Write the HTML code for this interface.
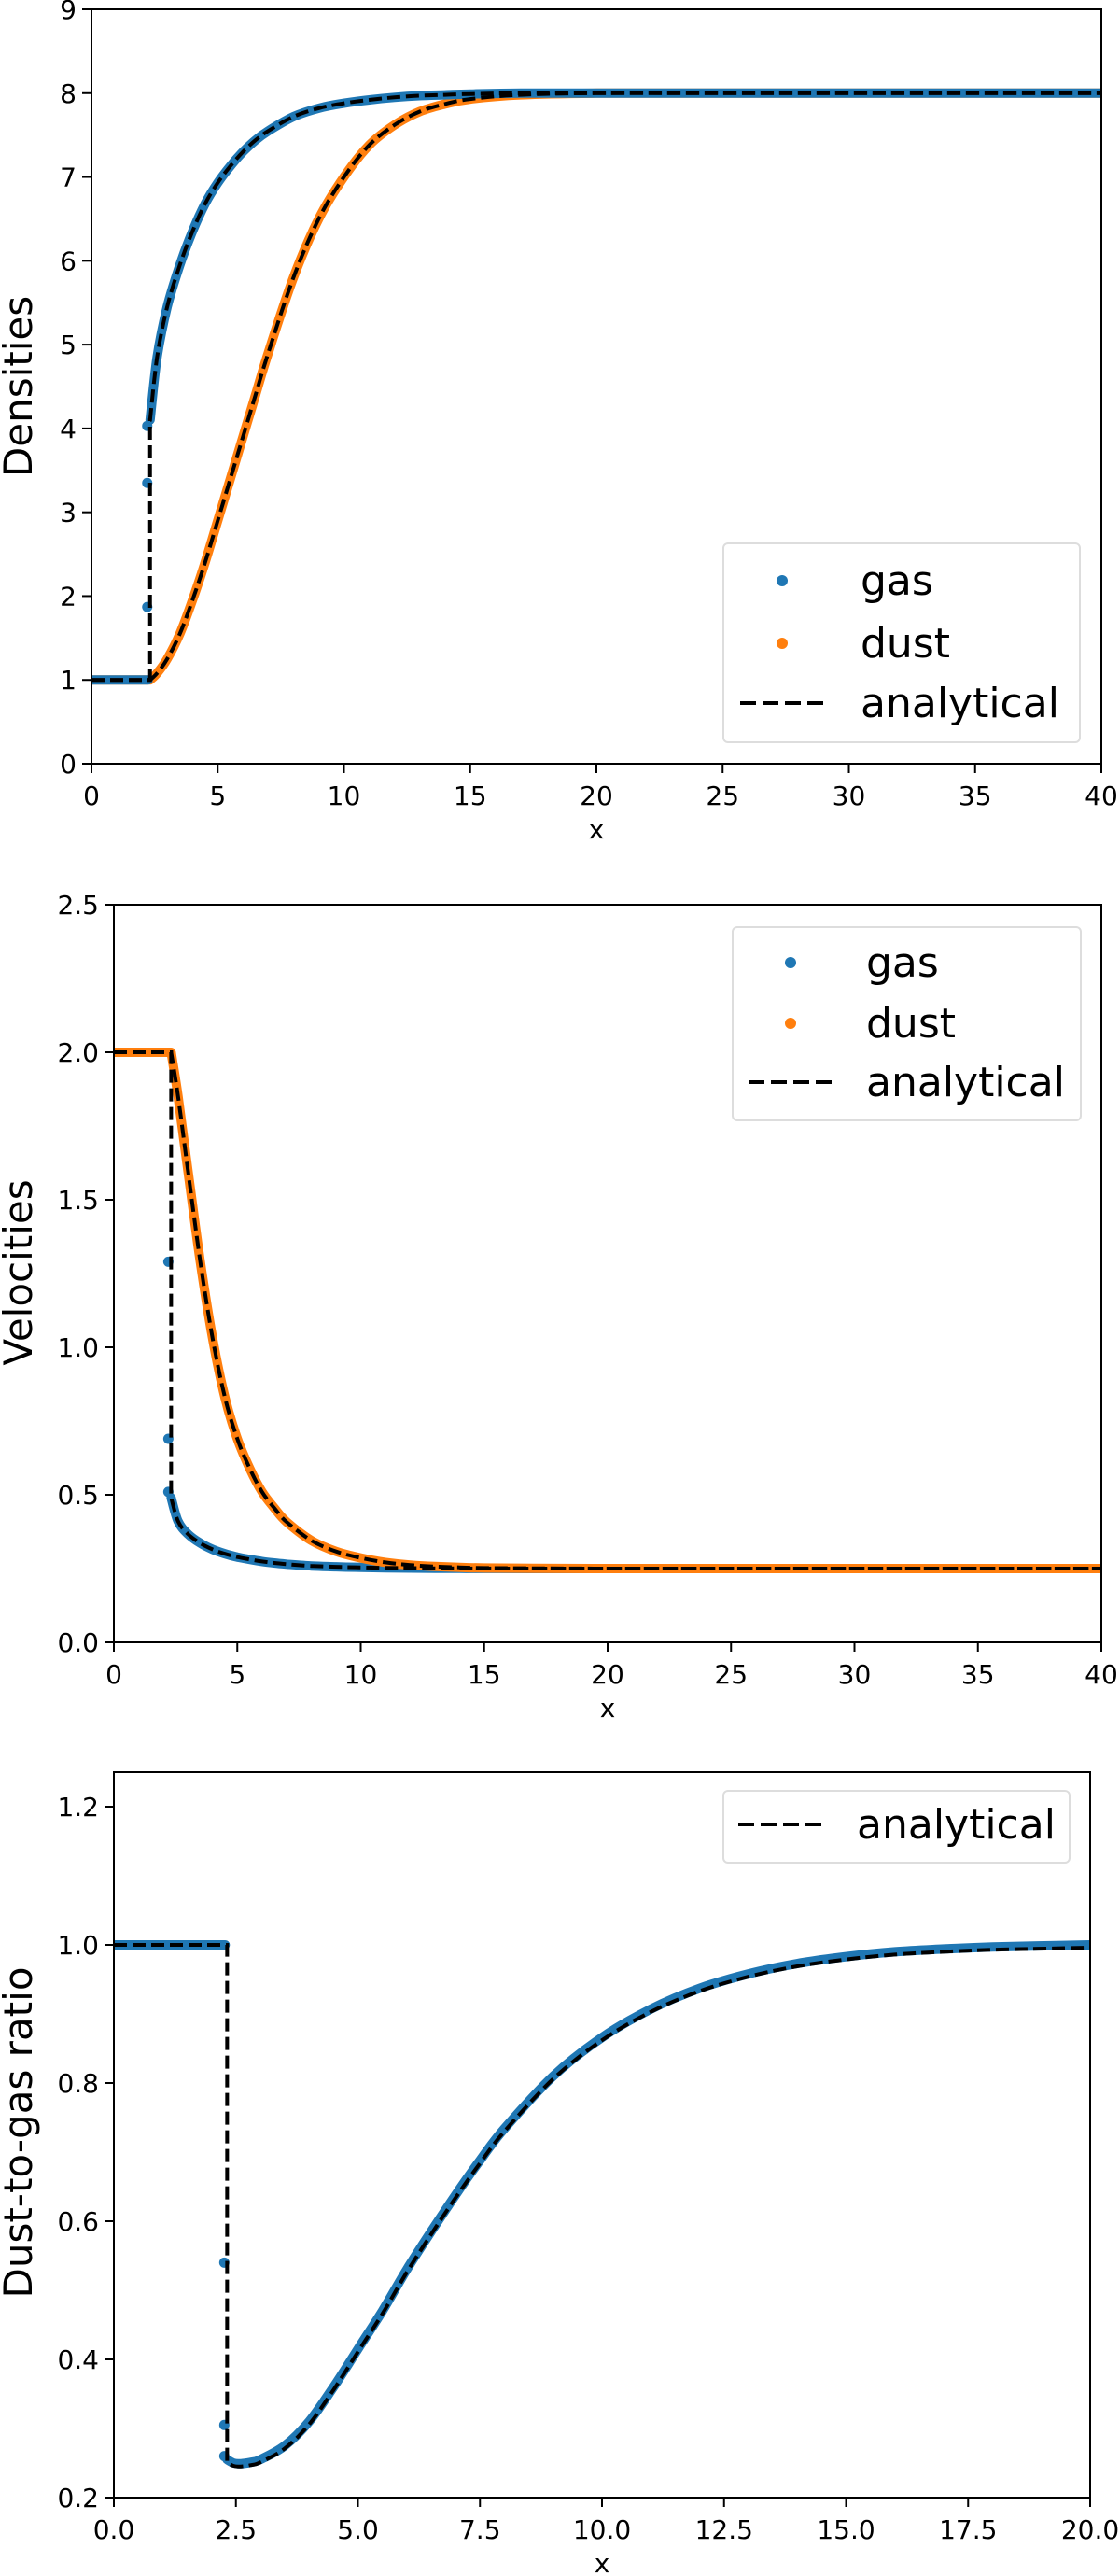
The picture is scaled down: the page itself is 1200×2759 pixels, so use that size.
<!DOCTYPE html>
<html><head><meta charset="utf-8">
<style>
html,body{margin:0;padding:0;background:#fff;}
svg{display:block;font-family:"DejaVu Sans","Liberation Sans",sans-serif;}
</style></head>
<body>
<svg id="fig" width="1200" height="2759" viewBox="0 0 1200 2759" xmlns="http://www.w3.org/2000/svg"></svg>
<script>
// ---------- data ----------
const shockX = 2.32;
// Densities panel
const rhoX = [2.32,2.6,3,3.5,4,4.5,5,5.5,6,6.5,7,8,9,10,11,12,13,14,15,17,20,25,30,40];
const rhoGas = [4.1,4.85,5.45,5.95,6.35,6.68,6.93,7.13,7.3,7.44,7.55,7.72,7.82,7.88,7.92,7.95,7.97,7.98,7.99,8.0,8.0,8.0,8.0,8.0];
const rhoDust = [1.0,1.08,1.25,1.55,1.95,2.4,2.9,3.4,3.9,4.4,4.9,5.8,6.5,7.0,7.38,7.62,7.78,7.87,7.93,7.98,8.0,8.0,8.0,8.0];
const rhoGasPts = [1.87,3.35,4.03];
// Velocities panel
const velX = rhoX;
const velGas = [0.49,0.41,0.367,0.336,0.315,0.3,0.289,0.281,0.274,0.269,0.265,0.259,0.256,0.254,0.2525,0.2517,0.2509,0.2506,0.2503,0.25,0.25,0.25,0.25,0.25];
const velDust = [2.0,1.85,1.6,1.29,1.03,0.83,0.69,0.59,0.51,0.455,0.408,0.345,0.308,0.286,0.271,0.262,0.257,0.254,0.252,0.251,0.25,0.25,0.25,0.25];
const velGasPts = [1.29,0.69,0.51];
// Dust-to-gas ratio panel
const ratX = [2.32,2.45,2.6,2.8,3,3.5,4,4.5,5,5.5,6,6.5,7,7.5,8,9,10,11,12,13,14,15,16,17,18,20];
const ratVal = [0.255,0.25,0.249,0.251,0.255,0.275,0.31,0.36,0.415,0.47,0.53,0.585,0.638,0.688,0.734,0.81,0.866,0.907,0.937,0.958,0.973,0.983,0.99,0.994,0.997,1.0];
const ratPts = [0.54,0.305,0.26];

const yTicks1 = [0,1,2,3,4,5,6,7,8,9];
const xTicks12 = [0,5,10,15,20,25,30,35,40];
const yTicks2 = [0,0.5,1.0,1.5,2.0,2.5];
const yTicks3 = [0.2,0.4,0.6,0.8,1.0,1.2];
const xTicks3 = [0,2.5,5,7.5,10,12.5,15,17.5,20];

const NS="http://www.w3.org/2000/svg";
const svg=document.getElementById('fig');
function el(tag,attrs,parent){const e=document.createElementNS(NS,tag);for(const k in attrs)e.setAttribute(k,attrs[k]);(parent||svg).appendChild(e);return e;}
const BLUE='#1f77b4', ORANGE='#ff7f0e';

function smoothPath(pts){
  let d='M'+pts[0][0].toFixed(1)+','+pts[0][1].toFixed(1);
  for(let i=0;i<pts.length-1;i++){
    const p0=pts[i-1]||pts[i],p1=pts[i],p2=pts[i+1],p3=pts[i+2]||p2;
    const c1=[p1[0]+(p2[0]-p0[0])/6,p1[1]+(p2[1]-p0[1])/6];
    const c2=[p2[0]-(p3[0]-p1[0])/6,p2[1]-(p3[1]-p1[1])/6];
    d+=' C'+c1[0].toFixed(1)+','+c1[1].toFixed(1)+' '+c2[0].toFixed(1)+','+c2[1].toFixed(1)+' '+p2[0].toFixed(1)+','+p2[1].toFixed(1);
  }
  return d;
}

function panel(cfg){
  const g=el('g',{});
  
  
  const sx=v=>cfg.L+(v-cfg.x0)/(cfg.x1-cfg.x0)*(cfg.R-cfg.L);
  const sy=v=>cfg.B-(v-cfg.y0)/(cfg.y1-cfg.y0)*(cfg.B-cfg.T);
  const clip='clip-'+cfg.name;
  const cp=el('clipPath',{id:clip},g);el('rect',{x:cfg.L,y:cfg.T,width:cfg.R-cfg.L,height:cfg.B-cfg.T},cp);
  const plot=el('g',{'clip-path':'url(#'+clip+')'},g);
  // numerical series (pre-shock and post-shock as separate pieces)
  cfg.series.forEach(s=>{
    const post=s.xs.map((x,i)=>[sx(x),sy(s.ys[i])]);
    const d='M'+sx(cfg.x0)+','+sy(s.pre)+' L'+(sx(shockX)-2)+','+sy(s.pre)+' '+smoothPath(post);
    const p=el('path',{d:d,fill:'none',stroke:s.color,'stroke-width':10,'stroke-linejoin':'round','stroke-linecap':'round'},plot);
    
    
    if(s.pts){s.pts.forEach(v=>{const c=el('circle',{cx:sx(shockX)-3,cy:sy(v),r:5.5,fill:s.color},plot);
      
      });}
  });
  // analytical dashed
  cfg.series.forEach(s=>{
    const first=[sx(shockX),sy(s.ys[0])+(s.aOff||0)];
    let d='M'+sx(cfg.x0)+','+sy(s.pre)+' L'+sx(shockX)+','+sy(s.pre)+' L'+first[0]+','+first[1]+' '+smoothPath(s.xs.map((x,i)=>[sx(x),sy(s.ys[i])+(s.aOff||0)])).replace('M','L');
    const a=el('path',{d:d,fill:'none',stroke:'#000','stroke-width':4,'stroke-dasharray':'14,6'},plot);
    
    
  });
  // frame
  const f=el('rect',{x:cfg.L,y:cfg.T,width:cfg.R-cfg.L,height:cfg.B-cfg.T,fill:'none',stroke:'#000','stroke-width':2},g);
  
  
  cfg.xt.forEach((v,i)=>{
    el('line',{x1:sx(v),x2:sx(v),y1:cfg.B,y2:cfg.B+10,stroke:'#000','stroke-width':2},g);
    const t=el('text',{x:sx(v),y:cfg.B+44,'font-size':28,'text-anchor':'middle',fill:'#000'},g);
    t.textContent=cfg.xtl[i];
    
    
  });
  cfg.yt.forEach((v,i)=>{
    el('line',{x1:cfg.L-10,x2:cfg.L,y1:sy(v),y2:sy(v),stroke:'#000','stroke-width':2},g);
    const t=el('text',{x:cfg.L-16,y:sy(v)+10,'font-size':28,'text-anchor':'end',fill:'#000'},g);
    t.textContent=cfg.ytl[i];
    
    
  });
  const xl=el('text',{x:(cfg.L+cfg.R)/2,y:cfg.B+80,'font-size':28,'text-anchor':'middle'},g);
  xl.textContent='x';
  
  
  const yl=el('text',{x:0,y:0,'font-size':42,'text-anchor':'middle',transform:'translate(34,'+cfg.ylY+') rotate(-90)'},g);
  yl.textContent=cfg.ylabel;
  
  
  // legend
  const lg=el('g',{},g);
  
  
  const Lb=cfg.leg;
  el('rect',{x:Lb.x,y:Lb.y,width:Lb.w,height:Lb.h,rx:5,fill:'#fff','fill-opacity':0.8,stroke:'#ddd','stroke-width':2},lg);
  Lb.items.forEach(it=>{
    if(it.type==='dot'){el('circle',{cx:Lb.mx,cy:it.y,r:6,fill:it.color},lg);}
    else{el('line',{x1:Lb.mx-45,x2:Lb.mx+45,y1:it.y,y2:it.y,stroke:'#000','stroke-width':4,'stroke-dasharray':'17,7'},lg);}
    const t=el('text',{x:Lb.tx,y:it.y+15,'font-size':44},lg);
    t.textContent=it.label;
    
    
  });
}

const fmt1=a=>a.map(v=>v.toFixed(1));
panel({name:'densities-panel',L:98,R:1180,T:10,B:818,x0:0,x1:40,y0:0,y1:9,
  xt:xTicks12,xtl:xTicks12.map(String),yt:yTicks1,ytl:yTicks1.map(String),ylabel:'Densities',ylY:414,
  series:[
    {name:'dust-density',color:ORANGE,pre:1,xs:rhoX,ys:rhoDust},
    {name:'gas-density',color:BLUE,pre:1,xs:rhoX,ys:rhoGas,pts:rhoGasPts}
  ],
  leg:{x:775,y:582,w:382,h:213,mx:838,tx:922,items:[{type:'dot',color:BLUE,label:'gas',y:622},{type:'dot',color:ORANGE,label:'dust',y:689},{type:'dash',label:'analytical',y:753}]}
});
panel({name:'velocities-panel',L:122,R:1180,T:969,B:1759,x0:0,x1:40,y0:0,y1:2.5,
  xt:xTicks12,xtl:xTicks12.map(String),yt:yTicks2,ytl:fmt1(yTicks2),ylabel:'Velocities',ylY:1363,
  series:[
    {name:'gas-velocity',color:BLUE,pre:2,xs:velX,ys:velGas,pts:velGasPts},
    {name:'dust-velocity',color:ORANGE,pre:2,xs:velX,ys:velDust}
  ],
  leg:{x:785,y:993,w:373,h:207,mx:847,tx:928,items:[{type:'dot',color:BLUE,label:'gas',y:1031},{type:'dot',color:ORANGE,label:'dust',y:1096},{type:'dash',label:'analytical',y:1159}]}
});
panel({name:'ratio-panel',L:122,R:1168,T:1898,B:2675,x0:0,x1:20,y0:0.2,y1:1.25,
  xt:xTicks3,xtl:fmt1(xTicks3),yt:yTicks3,ytl:fmt1(yTicks3),ylabel:'Dust-to-gas ratio',ylY:2284,
  series:[
    {name:'dust-to-gas-ratio',color:BLUE,pre:1,xs:ratX,ys:ratVal,pts:ratPts,aOff:3}
  ],
  leg:{x:775,y:1918,w:371,h:77,mx:836,tx:918,items:[{type:'dash',label:'analytical',y:1954}]}
});
</script>
</body></html>
